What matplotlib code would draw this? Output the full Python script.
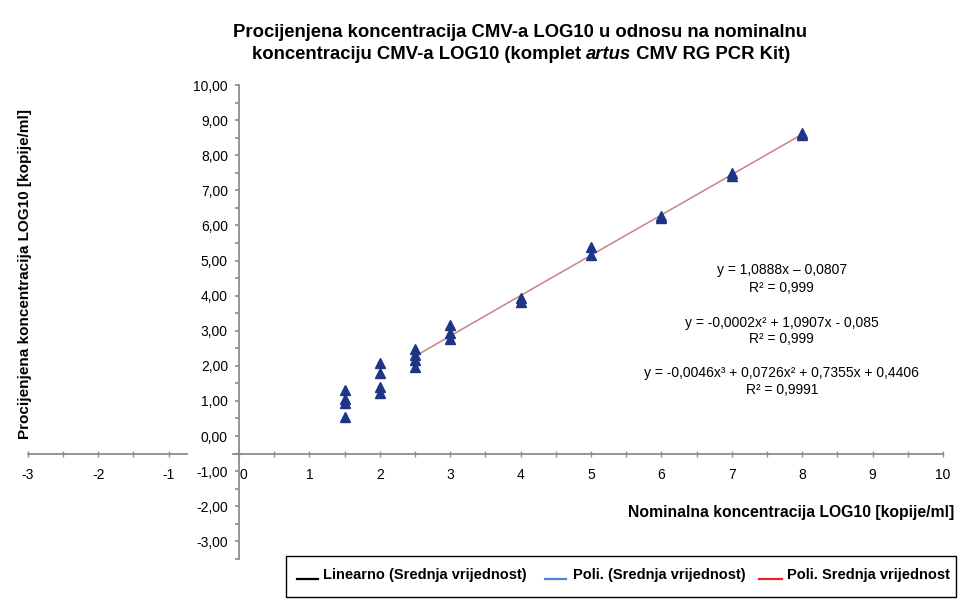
import numpy as np
import matplotlib
matplotlib.use("Agg")
import matplotlib.pyplot as plt
import matplotlib.transforms as mtransforms
from matplotlib.lines import Line2D
from matplotlib.patches import Rectangle

plt.rcParams['font.family'] = ['Liberation Sans', 'DejaVu Sans']

# nominal concentration (x) and estimated concentrations (y), LOG10 copies/ml
nominal = [1.5, 2.0, 2.5, 3.0, 4.0, 5.0, 6.0, 7.0, 8.0]
estimated = [
    [1.30, 1.05, 0.95, 0.55],
    [2.08, 1.80, 1.40, 1.22],
    [2.48, 2.30, 2.17, 1.97],
    [3.16, 2.93, 2.76],
    [3.92, 3.82],
    [5.38, 5.16],
    [6.27, 6.22],
    [7.50, 7.41],
    [8.62, 8.58],
]

# trend lines are fitted to the mean values from this nominal level upward
fit_from = 2.5

equations = [
    ("y = 1,0888x \u2013 0,0807", "R\u00b2 = 0,999"),
    ("y = -0,0002x\u00b2 + 1,0907x - 0,085", "R\u00b2 = 0,999"),
    ("y = -0,0046x\u00b3 + 0,0726x\u00b2 + 0,7355x + 0,4406", "R\u00b2 = 0,9991"),
]
eq_y = [(4.73, 4.22), (3.22, 2.76), (1.79, 1.31)]

legend_labels = ["Linearno (Srednja vrijednost)", "Poli. (Srednja vrijednost)",
                 "Poli. Srednja vrijednost"]
legend_colors = ["black", "#4a86d8", "#e8202a"]

W, H = 962, 601


def fx(px):
    return px / W


def fy(py):
    return 1 - py / H


fig = plt.figure(figsize=(9.62, 6.01), dpi=100)
ax = fig.add_axes([13.7 / W, 1 - 562.4 / H, 943.4 / W, 480.9 / H])
ax.set_xlim(-3.2, 10.2)
ax.set_ylim(-3.6, 10.1)

# axes crossing
axis_col = "#8c8c8c"
for s in ["top", "right"]:
    ax.spines[s].set_visible(False)
ax.spines["left"].set_position(("data", 0))
ax.spines["bottom"].set_position(("data", -0.5))
ax.spines["left"].set_bounds(-3.5, 10)
ax.spines["bottom"].set_bounds(-3, 10)
for s in ["left", "bottom"]:
    ax.spines[s].set_color(axis_col)
    ax.spines[s].set_linewidth(1.3)

ax.set_xticks(np.arange(-3, 11, 1))
ax.set_xticks(np.arange(-3, 10.5, 0.5), minor=True)
ax.set_xticklabels([str(v) for v in range(-3, 11)])
ax.set_yticks(np.arange(-3, 11, 1))
ax.set_yticks(np.arange(-3.5, 10.5, 0.5), minor=True)
ax.set_yticklabels([f"{v:.2f}".replace(".", ",") for v in range(-3, 11)])

ax.tick_params(axis="x", which="both", direction="inout", length=5, color=axis_col,
               width=1, labelsize=10, pad=8)
ax.tick_params(axis="y", which="both", direction="out", length=3, color=axis_col,
               width=1.2, labelsize=10, pad=5)
for lab in ax.get_yticklabels():
    lab.set_zorder(6)
# the "0" label sits a little right of the vertical axis
zero_lab = ax.get_xticklabels()[3]
zero_lab.set_transform(zero_lab.get_transform() +
                       mtransforms.ScaledTranslation(4 / 100, 0, fig.dpi_scale_trans))

# gap in horizontal axis behind the "-1,00" label
ax.add_patch(Rectangle((-0.72, -0.75), 0.62, 0.5, facecolor="white", edgecolor="none",
                       zorder=5, clip_on=False))

# trend lines fitted to the means (drawn on top of each other)
fx_pts = np.array([x for x in nominal if x >= fit_from])
fy_pts = np.array([np.mean(ys) for x, ys in zip(nominal, estimated) if x >= fit_from])
xs = np.linspace(fx_pts.min(), fx_pts.max(), 80)
ax.plot(xs, np.polyval(np.polyfit(fx_pts, fy_pts, 1), xs), color="black", lw=0.8,
        alpha=0.3, zorder=3)
ax.plot(xs, np.polyval(np.polyfit(fx_pts, fy_pts, 2), xs), color="#4a86d8", lw=0.8,
        alpha=0.3, zorder=3)
ax.plot(xs, np.polyval(np.polyfit(fx_pts, fy_pts, 3), xs), color="#e07a7a", lw=1.1,
        alpha=0.75, zorder=3)

# measured points
for x, ys in zip(nominal, estimated):
    ax.plot([x] * len(ys), ys, linestyle="none", marker="^", markersize=6.5,
            color="#1c3585", zorder=4)

# equations
for (e1, e2), (y1, y2) in zip(equations, eq_y):
    ax.text(7.71, y1, e1, ha="center", va="center", fontsize=10)
    ax.text(7.71, y2, e2, ha="center", va="center", fontsize=10)

# title
fig.text(fx(520), fy(37), "Procijenjena koncentracija CMV-a LOG10 u odnosu na nominalnu",
         ha="center", va="baseline", fontsize=13.3, fontweight="bold")
t1 = fig.text(fx(252), fy(59), "koncentraciju CMV-a LOG10 (komplet ",
              ha="left", va="baseline", fontsize=13.3, fontweight="bold")
t2 = fig.text(0, 0, "artus", fontsize=13.3, fontweight="bold", fontstyle="italic",
              ha="left", va="baseline")
t3 = fig.text(0, 0, " CMV RG PCR Kit)", fontsize=13.3, fontweight="bold",
              ha="left", va="baseline")
fig.canvas.draw()
r = fig.canvas.get_renderer()
bb1 = t1.get_window_extent(r)
t2.set_position((bb1.x1 / fig.bbox.width, fy(59)))
bb2 = t2.get_window_extent(r)
t3.set_position((bb2.x1 / fig.bbox.width, fy(59)))

# axis labels
fig.text(fx(25), fy(274), "Procijenjena koncentracija LOG10 [kopije/ml]", rotation=90,
         ha="center", va="center", fontsize=11, fontweight="bold")
fig.text(fx(628), fy(517), "Nominalna koncentracija LOG10 [kopije/ml]",
         ha="left", va="baseline", fontsize=11.3, fontweight="bold")

# legend box
fig.add_artist(Rectangle((fx(286), fy(597)), fx(956) - fx(286), fy(556) - fy(597),
                         transform=fig.transFigure, facecolor="white", edgecolor="black",
                         lw=1))
handle_x = [(297, 318), (545, 566), (759, 782)]
text_x = [323, 573, 787]
for (h0, h1), tx, lab, col in zip(handle_x, text_x, legend_labels, legend_colors):
    fig.add_artist(Line2D([fx(h0), fx(h1)], [fy(579), fy(579)], transform=fig.transFigure,
                          color=col, lw=1.6))
    fig.text(fx(tx), fy(579), lab, ha="left", va="baseline", fontsize=10.5,
             fontweight="bold")

fig.savefig("out.png", dpi=100)
